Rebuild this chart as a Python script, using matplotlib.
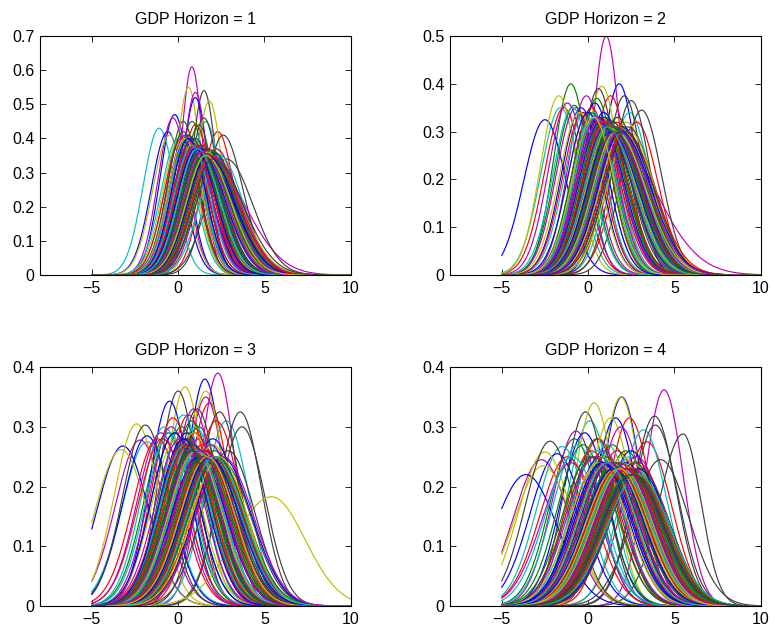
"""
GDP density fan: four forecast horizons
"""

import matplotlib
matplotlib.use('Agg')

import numpy as np
import matplotlib.pyplot as plt
from matplotlib.ticker import FuncFormatter

plt.rcParams['font.family'] = ['Liberation Sans', 'DejaVu Sans']

# old MATLAB line colour order: b, g, r, c, m, y, k
colour_order = [(0, 0, 1), (0, 0.5, 0), (1, 0, 0), (0, 0.75, 0.75),
                (0.75, 0, 0.75), (0.75, 0.75, 0), (0.25, 0.25, 0.25)]

titles = ['GDP Horizon = 1', 'GDP Horizon = 2', 'GDP Horizon = 3', 'GDP Horizon = 4']
y_tops = [0.7, 0.5, 0.4, 0.4]

# each row of 7 follows the colour order above
mode1 = [-0.2, 0.3, 2.3, -1.1, 0.8, 0.6, 1.5,
         1.0, 0.8, 0.5, 1.6, 1.0, 1.8, 1.5,
         -0.6, 1.2, 1.0, 0.2, -0.3, -0.5, 2.6,
         2.0, 0.6, 1.4, 1.1, 1.8, 0.1, 2.8,
         0.4, 1.5, 0.2, 1.9, 0.7, 1.2, 1.0,
         1.3, 0.9, 1.8, 0.0, 1.1, 2.1, 0.6,
         0.8, 1.7, 1.2, 1.4, 2.2, 0.9, 1.7,
         1.6, 1.1, 0.7, 0.5, 1.3, 1.5, 0.3,
         1.1, 1.9, 1.5, 2.4, 0.4, 1.0, 1.2,
         1.8, 1.3, 2.0, 1.7, 1.6, 0.4, 0.8,
         0.6, 2.1, 1.6, 1.2, 1.0, 2.0, 1.4,
         1.4, 1.4, 1.3, 1.5, 1.9, 1.3, 1.9,
         1.2, 1.6, 1.1, 1.9, 0.9, 1.7, 2.2,
         1.5, 1.0, 1.7, 1.3, 1.5, 1.1, 1.6,
         1.3, 1.8, 0.9, 1.6, 1.2, 1.9, 1.0,
         1.7, 1.2, 1.5, 0.8, 2.0, 1.4, 1.3,
         1.0, 1.5, 1.9, 1.1, 1.4, 1.6, 2.0]
peak1 = [0.47, 0.45, 0.42, 0.43, 0.61, 0.55, 0.54,
         0.52, 0.45, 0.40, 0.45, 0.535, 0.51, 0.46,
         0.42, 0.44, 0.44, 0.41, 0.46, 0.41, 0.41,
         0.36, 0.41, 0.38, 0.39, 0.33, 0.40, 0.34,
         0.39, 0.37, 0.40, 0.36, 0.39, 0.38, 0.40,
         0.37, 0.39, 0.36, 0.40, 0.38, 0.37, 0.41,
         0.38, 0.36, 0.37, 0.36, 0.37, 0.39, 0.37,
         0.35, 0.37, 0.39, 0.40, 0.37, 0.36, 0.42,
         0.37, 0.35, 0.35, 0.35, 0.41, 0.38, 0.38,
         0.36, 0.36, 0.35, 0.36, 0.36, 0.40, 0.40,
         0.40, 0.36, 0.36, 0.36, 0.38, 0.35, 0.37,
         0.35, 0.35, 0.36, 0.34, 0.35, 0.36, 0.35,
         0.37, 0.35, 0.37, 0.35, 0.38, 0.36, 0.34,
         0.35, 0.37, 0.35, 0.36, 0.35, 0.37, 0.35,
         0.36, 0.35, 0.38, 0.35, 0.36, 0.35, 0.37,
         0.35, 0.36, 0.35, 0.38, 0.35, 0.36, 0.36,
         0.37, 0.35, 0.35, 0.37, 0.36, 0.35, 0.34]
skew1 = [1.0, 1.0, 1.0, 1.0, 1.0, 1.0, 1.0,
         1.0, 1.0, 1.0, 1.0, 1.0, 1.0, 1.0,
         1.0, 1.0, 1.1, 1.0, 1.0, 1.0, 1.2,
         1.3, 1.0, 1.2, 1.1, 1.75, 1.0, 1.3,
         1.0, 1.3, 1.0, 1.2, 1.0, 1.2, 1.1,
         1.2, 1.0, 1.4, 1.0, 1.1, 1.3, 1.0,
         1.1, 1.3, 1.2, 1.4, 1.2, 1.0, 1.3,
         1.4, 1.1, 1.0, 1.0, 1.3, 1.5, 1.0,
         1.2, 1.3, 1.5, 1.2, 1.0, 1.1, 1.3,
         1.3, 1.2, 1.4, 1.3, 1.3, 1.0, 1.1,
         1.0, 1.2, 1.3, 1.2, 1.1, 1.4, 1.3,
         1.4, 1.5, 1.3, 1.4, 1.3, 1.3, 1.3,
         1.2, 1.4, 1.1, 1.3, 1.0, 1.2, 1.3,
         1.5, 1.2, 1.4, 1.3, 1.4, 1.2, 1.6,
         1.3, 1.4, 1.1, 1.3, 1.2, 1.5, 1.1,
         1.4, 1.2, 1.3, 1.0, 1.4, 1.3, 1.2,
         1.1, 1.3, 1.4, 1.2, 1.3, 1.3, 1.5]

mode2 = [1.8, -1.0, 1.3, -1.6, 1.05, 0.8, 0.6,
         -2.5, 0.5, -1.4, 2.4, -0.1, -1.7, 2.1,
         0.4, 1.0, 2.8, -0.2, -1.2, 1.6, 2.5,
         0.9, -0.8, 0.2, 1.2, 1.3, 0.0, 3.1,
         -0.4, 1.4, 0.7, 0.6, 0.3, 2.2, 1.7,
         1.1, 0.2, 1.6, 1.8, -0.7, 1.2, 0.9,
         2.0, 1.2, -0.3, 0.3, 1.5, 0.5, 1.4,
         0.6, 1.7, 1.0, 1.5, 0.8, -0.5, 2.3,
         1.4, 0.9, 1.9, -0.9, 1.9, 1.8, 1.1,
         0.0, 1.5, 0.5, 1.0, 1.1, 1.0, 1.9,
         1.6, 0.6, 1.2, 2.0, 0.5, 1.4, 0.4,
         1.2, 1.1, 1.5, 0.8, 1.6, 0.7, 1.3,
         2.2, 1.9, 1.4, 1.3, 1.0, 2.4, 1.6,
         1.0, 1.3, 1.7, 1.6, 1.4, 1.2, 1.8,
         0.7, 1.8, 1.1, 0.4, 1.5, 2.0, 1.0,
         1.3, 0.8, 2.1, 1.7, 0.6, 1.6, 2.2,
         1.9, 1.4, 0.9, 1.1, 1.8, 0.3, 1.5]
peak2 = [0.40, 0.40, 0.375, 0.35, 0.50, 0.395, 0.39,
         0.325, 0.37, 0.35, 0.34, 0.375, 0.375, 0.375,
         0.36, 0.33, 0.32, 0.34, 0.36, 0.33, 0.365,
         0.34, 0.355, 0.35, 0.32, 0.30, 0.34, 0.345,
         0.35, 0.32, 0.33, 0.33, 0.34, 0.32, 0.33,
         0.32, 0.34, 0.32, 0.31, 0.35, 0.32, 0.33,
         0.31, 0.32, 0.34, 0.34, 0.31, 0.33, 0.32,
         0.33, 0.31, 0.32, 0.31, 0.32, 0.34, 0.31,
         0.31, 0.32, 0.31, 0.35, 0.31, 0.31, 0.32,
         0.34, 0.31, 0.33, 0.32, 0.32, 0.32, 0.31,
         0.30, 0.32, 0.31, 0.30, 0.33, 0.31, 0.33,
         0.31, 0.32, 0.30, 0.32, 0.31, 0.32, 0.31,
         0.30, 0.30, 0.31, 0.31, 0.32, 0.30, 0.30,
         0.31, 0.31, 0.30, 0.30, 0.30, 0.31, 0.30,
         0.32, 0.30, 0.31, 0.33, 0.30, 0.30, 0.31,
         0.30, 0.32, 0.30, 0.30, 0.32, 0.30, 0.30,
         0.30, 0.31, 0.32, 0.31, 0.30, 0.33, 0.30]
skew2 = [1.0, 1.0, 1.0, 1.0, 1.0, 1.0, 1.0,
         1.0, 1.0, 1.0, 1.0, 1.0, 1.0, 1.0,
         1.0, 1.1, 1.0, 1.0, 1.0, 1.1, 1.0,
         1.1, 1.0, 1.0, 1.2, 1.9, 1.0, 1.0,
         1.0, 1.2, 1.1, 1.0, 1.0, 1.2, 1.1,
         1.2, 1.0, 1.3, 1.1, 1.0, 1.2, 1.1,
         1.2, 1.1, 1.0, 1.0, 1.3, 1.0, 1.2,
         1.1, 1.2, 1.3, 1.2, 1.1, 1.0, 1.2,
         1.3, 1.1, 1.2, 1.0, 1.2, 1.4, 1.1,
         1.0, 1.3, 1.1, 1.2, 1.2, 1.3, 1.2,
         1.2, 1.1, 1.3, 1.1, 1.0, 1.2, 1.0,
         1.2, 1.2, 1.4, 1.1, 1.3, 1.1, 1.2,
         1.1, 1.2, 1.3, 1.2, 1.2, 1.1, 1.3,
         1.2, 1.3, 1.2, 1.3, 1.2, 1.2, 1.2,
         1.1, 1.3, 1.2, 1.0, 1.3, 1.2, 1.2,
         1.2, 1.1, 1.3, 1.2, 1.1, 1.3, 1.2,
         1.3, 1.2, 1.1, 1.2, 1.3, 1.0, 1.2]

mode3 = [1.55, -0.6, 1.8, -1.8, 2.3, 0.4, 0.0,
         -0.5, 0.8, -0.3, 2.8, 1.6, 1.6, 2.4,
         -3.2, 1.2, 0.6, -0.8, -2.2, -2.4, 3.6,
         -1.8, 0.2, 2.2, 1.0, 0.9, -3.3, 3.7,
         0.5, 1.6, -1.2, 0.3, -0.4, 5.4, -1.9,
         2.0, -0.2, 1.0, 1.8, 1.2, 0.9, 1.1,
         0.9, 2.1, 1.4, -0.5, 0.6, 2.0, 2.9,
         1.3, 0.5, -0.9, 1.3, 1.9, -0.1, 1.6,
         2.5, 1.0, 1.9, 0.7, -1.0, 1.4, 0.4,
         -0.2, 1.8, 0.3, 2.2, 1.5, 0.6, 2.1,
         1.7, 1.3, 1.6, 1.5, 0.1, 1.8, 1.3,
         1.1, 0.7, 2.4, 0.4, 2.2, 1.1, 0.8,
         1.9, 1.5, 1.2, 1.9, 1.3, 2.3, 1.8,
         0.8, 2.0, 0.8, 1.0, 1.7, 1.5, 2.6,
         1.2, 2.2, 0.6, 1.7, 2.6, 1.0, 1.9,
         0.3, 1.5, 2.0, 1.1, 0.9, 2.4, 1.4,
         1.8, 0.8, 1.6, 2.1, 1.3, 1.7, 0.5]
peak3 = [0.38, 0.29, 0.34, 0.275, 0.39, 0.367, 0.36,
         0.343, 0.31, 0.315, 0.31, 0.35, 0.36, 0.325,
         0.268, 0.30, 0.32, 0.30, 0.278, 0.305, 0.325,
         0.285, 0.30, 0.31, 0.30, 0.33, 0.262, 0.30,
         0.29, 0.26, 0.28, 0.32, 0.30, 0.183, 0.303,
         0.28, 0.29, 0.29, 0.27, 0.28, 0.29, 0.33,
         0.27, 0.26, 0.27, 0.29, 0.28, 0.27, 0.26,
         0.26, 0.28, 0.28, 0.26, 0.27, 0.28, 0.26,
         0.25, 0.26, 0.25, 0.27, 0.29, 0.26, 0.28,
         0.29, 0.25, 0.27, 0.25, 0.26, 0.27, 0.25,
         0.25, 0.25, 0.26, 0.25, 0.28, 0.25, 0.26,
         0.26, 0.26, 0.24, 0.27, 0.25, 0.26, 0.27,
         0.25, 0.25, 0.25, 0.25, 0.26, 0.24, 0.25,
         0.26, 0.24, 0.26, 0.25, 0.25, 0.25, 0.24,
         0.25, 0.25, 0.27, 0.25, 0.25, 0.26, 0.25,
         0.28, 0.25, 0.25, 0.26, 0.26, 0.25, 0.25,
         0.25, 0.26, 0.25, 0.25, 0.26, 0.25, 0.27]
skew3 = [1.0, 1.0, 1.0, 1.0, 1.0, 1.0, 1.0,
         1.0, 1.0, 1.0, 1.0, 1.0, 1.0, 1.0,
         1.0, 1.0, 1.0, 1.0, 1.0, 1.0, 1.0,
         1.0, 1.0, 1.1, 1.0, 1.0, 1.0, 1.0,
         1.0, 1.1, 1.0, 1.0, 1.0, 0.9, 1.0,
         1.1, 1.0, 1.0, 1.1, 1.0, 1.0, 1.0,
         1.0, 1.1, 1.0, 1.0, 1.0, 1.1, 1.0,
         1.0, 1.0, 1.0, 1.1, 1.0, 1.0, 1.0,
         1.1, 1.0, 1.1, 1.0, 1.0, 1.0, 1.0,
         1.0, 1.1, 1.0, 1.0, 1.1, 1.0, 1.0,
         1.0, 1.0, 1.1, 1.0, 1.0, 1.1, 1.0,
         1.0, 1.0, 1.0, 1.0, 1.0, 1.0, 1.0,
         1.1, 1.0, 1.0, 1.1, 1.0, 1.0, 1.0,
         1.0, 1.1, 1.0, 1.0, 1.0, 1.0, 1.0,
         1.0, 1.1, 1.0, 1.0, 1.1, 1.0, 1.0,
         1.0, 1.0, 1.1, 1.0, 1.0, 1.0, 1.0,
         1.1, 1.0, 1.0, 1.1, 1.0, 1.0, 1.0]

mode4 = [1.95, -0.8, 2.4, 0.1, 4.4, 1.9, -0.15,
         1.6, 0.5, 3.4, 3.2, -0.7, 0.35, 3.85,
         -0.2, 1.4, 0.6, -1.5, -2.7, 1.3, 3.9,
         -1.8, 2.2, -1.2, 1.1, 1.9, -2.5, 5.5,
         -3.6, -0.3, 1.7, -0.6, 0.9, -2.6, -2.2,
         2.5, 1.0, 0.2, 2.4, 2.8, 2.0, 4.2,
         0.7, 2.6, 2.9, 0.5, -1.0, 0.8, 1.5,
         2.2, 1.8, 1.3, 2.0, 2.3, 2.6, 2.7,
         1.2, 0.1, 2.1, 2.7, 1.6, 1.1, 0.3,
         2.9, 2.4, 1.8, 1.5, 0.4, 2.3, 2.0,
         1.8, 1.5, 2.6, -0.9, 2.1, 1.7, 3.0,
         2.3, 2.9, 1.0, 2.2, 1.4, 2.8, 1.2,
         0.9, 2.0, 2.2, 1.8, 2.5, 0.6, 2.4,
         2.6, 1.7, 2.7, 2.4, 2.0, 2.2, 1.9,
         2.1, 1.4, 2.8, 1.9, 2.5, 1.6, 2.2,
         0.8, 2.4, 1.7, 2.9, 1.3, 2.0, 2.6,
         1.5, 2.7, 2.3, 1.1, 2.1, 1.8, 2.5]
peak4 = [0.35, 0.28, 0.315, 0.31, 0.362, 0.35, 0.325,
         0.315, 0.28, 0.275, 0.295, 0.293, 0.34, 0.318,
         0.29, 0.27, 0.28, 0.267, 0.245, 0.315, 0.303,
         0.255, 0.26, 0.25, 0.27, 0.30, 0.258, 0.288,
         0.22, 0.27, 0.26, 0.27, 0.26, 0.235, 0.276,
         0.26, 0.25, 0.26, 0.25, 0.25, 0.25, 0.245,
         0.25, 0.24, 0.24, 0.26, 0.24, 0.25, 0.24,
         0.24, 0.24, 0.24, 0.24, 0.23, 0.24, 0.24,
         0.24, 0.25, 0.23, 0.23, 0.24, 0.24, 0.25,
         0.23, 0.23, 0.24, 0.24, 0.25, 0.23, 0.23,
         0.23, 0.24, 0.23, 0.25, 0.23, 0.23, 0.23,
         0.23, 0.22, 0.24, 0.23, 0.23, 0.22, 0.24,
         0.24, 0.23, 0.23, 0.22, 0.22, 0.24, 0.22,
         0.22, 0.23, 0.22, 0.22, 0.23, 0.23, 0.23,
         0.23, 0.23, 0.22, 0.23, 0.22, 0.23, 0.23,
         0.24, 0.22, 0.23, 0.22, 0.24, 0.23, 0.22,
         0.23, 0.22, 0.23, 0.24, 0.23, 0.23, 0.22]
skew4 = [1.0] * 27 + [0.75] + [1.0] * 91

modes = [mode1, mode2, mode3, mode4]
peaks = [peak1, peak2, peak3, peak4]
skews = [skew1, skew2, skew3, skew4]


def two_piece(x, mode, peak, skew):
    # left width follows the peak height of a normal density,
    # right width is stretched by the skew ratio
    sl = 1.0 / (peak * np.sqrt(2 * np.pi))
    sr = sl * skew
    s = np.where(x < mode, sl, sr)
    return peak * np.exp(-0.5 * ((x - mode) / s) ** 2)


def main():
    x = np.linspace(-5, 10, 401)

    fig = plt.figure(figsize=(7.75, 6.32), dpi=100)
    lefts = [0.0516, 0.5806, 0.0516, 0.5806]
    bottoms = [0.5649, 0.5649, 0.0411, 0.0411]

    for k in range(4):
        ax = fig.add_axes([lefts[k], bottoms[k], 0.401, 0.378])
        ax.set_prop_cycle(color=colour_order)
        for m, p, s in zip(modes[k], peaks[k], skews[k]):
            ax.plot(x, two_piece(x, m, p, s), lw=0.85)

        ax.set_xlim(-8, 10)
        ax.set_ylim(0, y_tops[k])
        ax.set_xticks([-5, 0, 5, 10])
        ax.set_yticks(np.arange(0, y_tops[k] + 0.001, 0.1))
        ax.yaxis.set_major_formatter(FuncFormatter(lambda v, pos: '%g' % round(v, 2)))
        ax.tick_params(direction='in', top=True, right=True, length=4,
                       width=0.6, labelsize=11.5, pad=4)
        for sp in ax.spines.values():
            sp.set_linewidth(0.8)
        ax.set_title(titles[k], fontsize=11.5, pad=9)

    fig.savefig('out.png', dpi=100)


if __name__ == "__main__":
    main()
